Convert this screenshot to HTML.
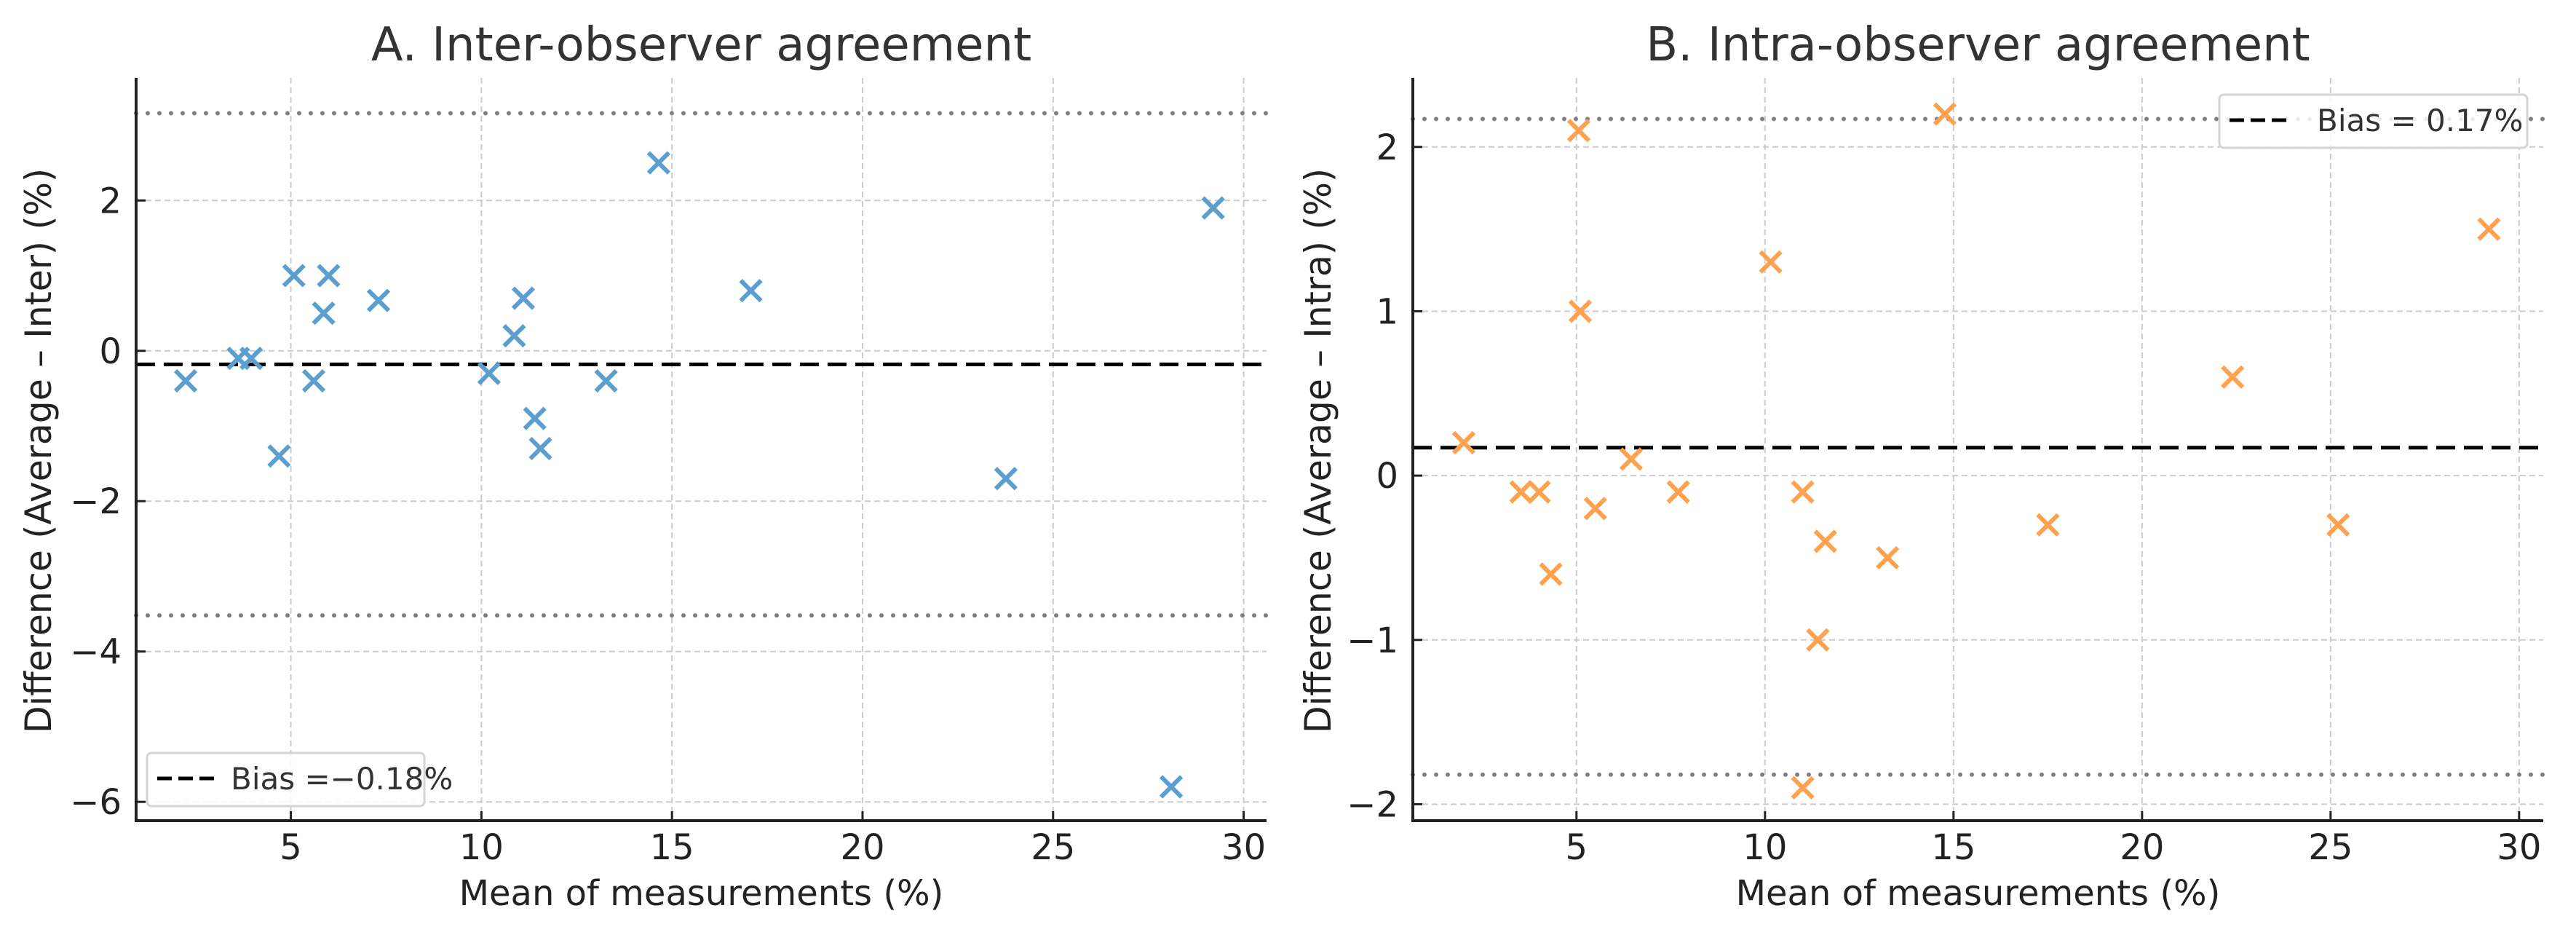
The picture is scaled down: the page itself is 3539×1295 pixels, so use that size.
<!DOCTYPE html>
<html><head><meta charset="utf-8"><style>
html,body{margin:0;padding:0;background:#fff}
svg{display:block;font-family:"DejaVu Sans","Liberation Sans",sans-serif}
</style></head><body>
<svg id="chart" width="3539" height="1295" viewBox="0 0 3539 1295" xmlns="http://www.w3.org/2000/svg"></svg>
<script>
// Panel A data
const interMeans = [2.24,3.62,3.96,4.69,5.08,5.6,5.86,5.99,7.3,10.2,10.86,11.1,11.4,11.55,13.27,14.65,17.07,23.76,28.1,29.2];
const interDiffs = [-0.4,-0.1,-0.1,-1.4,1.0,-0.4,0.5,1.0,0.67,-0.3,0.2,0.7,-0.9,-1.3,-0.4,2.5,0.8,-1.7,-5.8,1.9];
const interBias = [-0.18];
const interLoA = [3.16,-3.52];
const interYTicks = [-6,-4,-2,0,2];
// Panel B data
const intraMeans = [2.01,3.53,4.01,4.32,5.06,5.1,5.5,6.45,7.7,10.15,11.0,11.4,11.6,11.0,13.25,14.77,17.5,22.4,25.2,29.2];
const intraDiffs = [0.2,-0.1,-0.1,-0.6,2.1,1.0,-0.2,0.1,-0.1,1.3,-0.1,-1.0,-0.4,-1.9,-0.5,2.2,-0.3,0.6,-0.3,1.5];
const intraBias = [0.17];
const intraLoA = [2.17,-1.82];
const intraYTicks = [-2,-1,0,1,2];
const xTicks = [5,10,15,20,25,30];

const NS='http://www.w3.org/2000/svg';
const svg=document.getElementById('chart');
function mk(tag,attrs,parent){const e=document.createElementNS(NS,tag);for(const k in attrs)e.setAttribute(k,attrs[k]);(parent||svg).appendChild(e);return e;}

function panel(cfg){
  const g=mk('g',{});
  
  
  const L=cfg.left,R=cfg.right,T=107,B=1127;
  const sx=v=>L+(v-cfg.xmin)/(cfg.xmax-cfg.xmin)*(R-L);
  const sy=v=>T+(cfg.ymax-v)/(cfg.ymax-cfg.ymin)*(B-T);
  xTicks.forEach(t=>{const l=mk('line',{x1:sx(t),x2:sx(t),y1:T,y2:B,stroke:'#cccccc','stroke-width':2,'stroke-dasharray':'8,5'},g);
    
    });
  cfg.yticks.forEach(t=>{const l=mk('line',{x1:L,x2:R,y1:sy(t),y2:sy(t),stroke:'#cccccc','stroke-width':2,'stroke-dasharray':'8,5'},g);
    
    });
  cfg.loa.forEach(v=>{const l=mk('line',{x1:L,x2:R,y1:sy(v),y2:sy(v),stroke:'#808080','stroke-width':6,'stroke-dasharray':'0,16','stroke-linecap':'round'},g);
    
    });
  const bl=mk('line',{x1:L,x2:R,y1:sy(cfg.bias[0]),y2:sy(cfg.bias[0]),stroke:'#000','stroke-width':5,'stroke-dasharray':'26,12'},g);
  
  
  cfg.xs.forEach((x,i)=>{const cx=sx(x),cy=sy(cfg.ys[i]),s=14;
    const p=mk('path',{d:`M${cx-s},${cy-s}L${cx+s},${cy+s}M${cx-s},${cy+s}L${cx+s},${cy-s}`,stroke:cfg.color,'stroke-width':6,fill:'none'},g);
    
    });
  const sp=mk('path',{d:`M${L},${T}L${L},${B}L${R},${B}`,stroke:'#222','stroke-width':4,fill:'none'},g);
  
  
  xTicks.forEach(t=>{mk('line',{x1:sx(t),x2:sx(t),y1:B,y2:B-13,stroke:'#222','stroke-width':3},g);
    const tx=mk('text',{x:sx(t),y:1180,'font-size':48,fill:'#222','text-anchor':'middle'},g);tx.textContent=t;
    
    });
  cfg.yticks.forEach(t=>{mk('line',{x1:L,x2:L+13,y1:sy(t),y2:sy(t),stroke:'#222','stroke-width':3},g);
    const tx=mk('text',{x:L-20,y:sy(t)+17,'font-size':48,fill:'#222','text-anchor':'end'},g);tx.textContent=(t<0?'\u2212'+(-t):t);
    
    });
  const ti=mk('text',{x:(L+R)/2,y:83,'font-size':64,fill:'#333','text-anchor':'middle'},g);ti.textContent=cfg.title;
  
  
  const xl=mk('text',{x:(L+R)/2,y:1243,'font-size':48,fill:'#222','text-anchor':'middle'},g);xl.textContent='Mean of measurements (%)';
  
  
  const yl=mk('text',{x:0,y:0,'font-size':50,fill:'#222','text-anchor':'middle',textLength:776,lengthAdjust:'spacingAndGlyphs',transform:`translate(${cfg.ylx},619) rotate(-90)`},g);yl.textContent=cfg.ylabel;
  
  
  const lg=mk('g',{},g);
  
  
  const lb=cfg.legend;
  mk('rect',{x:lb.x,y:lb.y,width:lb.w,height:73,rx:6,fill:'#fff','fill-opacity':0.85,stroke:'#d5d5d5','stroke-width':3},lg);
  mk('line',{x1:lb.x+14,x2:lb.x+96,y1:lb.y+35,y2:lb.y+35,stroke:'#000','stroke-width':5,'stroke-dasharray':'20,9'},lg);
  const lt=mk('text',{x:lb.tx,y:lb.y+50,'font-size':42,fill:'#333'},lg);lt.textContent=lb.text;
  
  
}

panel({name:'inter-observer-panel',left:187,right:1740,xmin:0.94,xmax:30.6,ymin:-6.25,ymax:3.63,
  xs:interMeans,ys:interDiffs,bias:interBias,loa:interLoA,yticks:interYTicks,color:'#5b9fd0',
  title:'A. Inter-observer agreement',ylabel:'Difference (Average \u2013 Inter) (%)',ylx:70,
  legend:{x:202,y:1034,w:381,tx:317,text:'Bias =\u22120.18%'}});
panel({name:'intra-observer-panel',left:1941,right:3494,xmin:0.66,xmax:30.64,ymin:-2.10,ymax:2.42,
  xs:intraMeans,ys:intraDiffs,bias:intraBias,loa:intraLoA,yticks:intraYTicks,color:'#ffa24f',
  title:'B. Intra-observer agreement',ylabel:'Difference (Average \u2013 Intra) (%)',ylx:1828,
  legend:{x:3049,y:130,w:423,tx:3183,text:'Bias = 0.17%'}});
</script>
</body></html>
